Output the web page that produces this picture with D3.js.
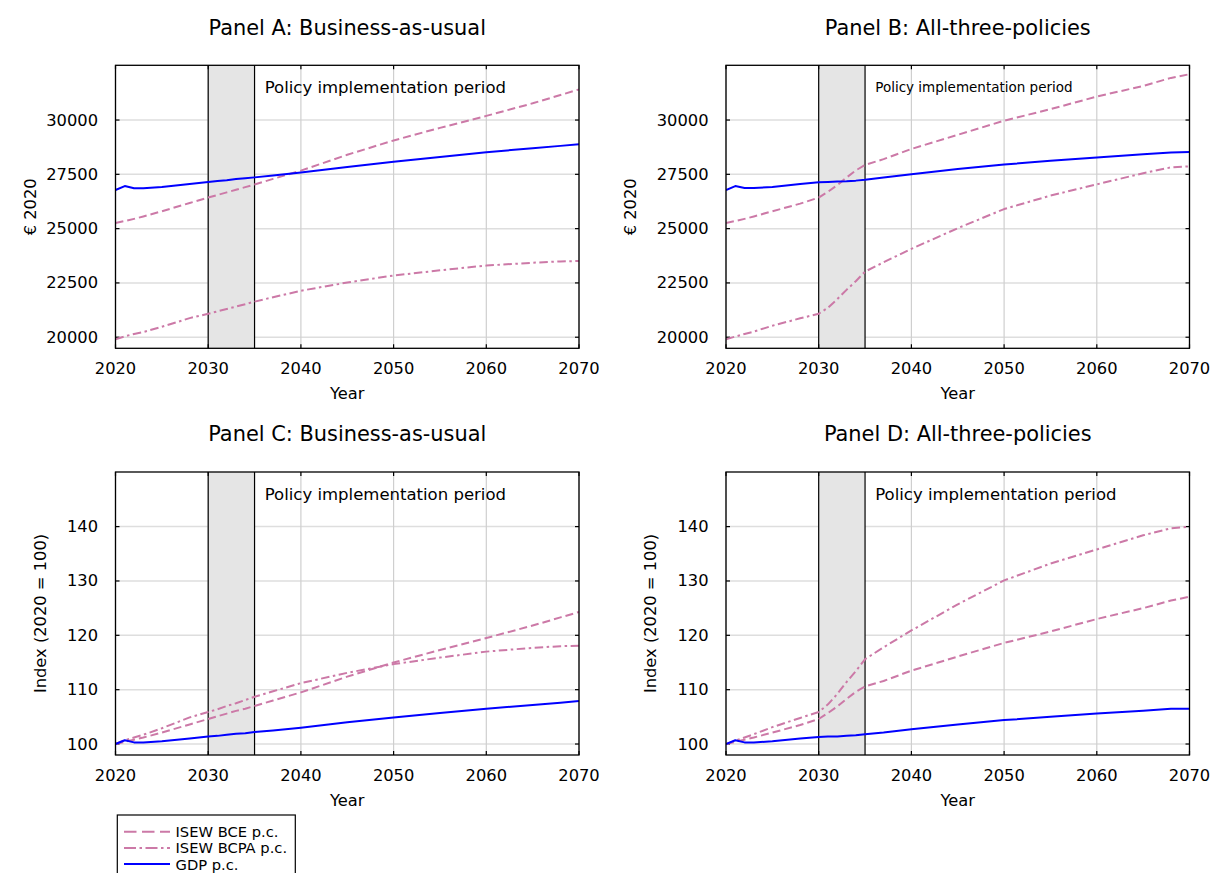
<!DOCTYPE html>
<html><head><meta charset="utf-8">
<script src="https://cdn.jsdelivr.net/npm/d3@7/dist/d3.min.js"></script>
<style>
html,body{margin:0;padding:0;background:#fff;}
svg{display:block;font-family:"DejaVu Sans",sans-serif;}
</style></head>
<body><svg id="chart" width="1213" height="873"></svg>
<script>
// ---------- data ----------
const years = [2020,2021,2022,2023,2025,2028,2030,2031,2032,2033,2034,2035,2037,2040,2045,2050,2055,2060,2065,2068,2070];

// Panel A: Business-as-usual (€ 2020)
const bauBCE  = [25260,25350,25450,25560,25800,26180,26430,26550,26670,26790,26910,27030,27290,27670,28400,29060,29640,30190,30770,31150,31410];
const bauBCPA = [19910,20040,20150,20240,20480,20880,21080,21190,21300,21410,21520,21640,21840,22140,22520,22840,23080,23300,23430,23490,23510];
const bauGDP  = [26780,26960,26860,26860,26920,27060,27150,27190,27230,27280,27320,27360,27450,27580,27840,28080,28300,28520,28700,28810,28890];

// Panel B: All-three-policies (€ 2020)
const allBCE  = [25260,25350,25450,25560,25800,26150,26430,26700,27000,27350,27680,27930,28200,28670,29320,29970,30500,31080,31570,31940,32110];
const allBCPA = [19910,20030,20150,20260,20530,20870,21080,21360,21750,22180,22580,23020,23450,24070,25020,25900,26520,27040,27550,27820,27870];
const allGDP  = [26780,26960,26870,26870,26920,27050,27140,27150,27165,27180,27210,27250,27350,27500,27740,27950,28130,28280,28420,28510,28530];

// Panel C: Business-as-usual (index 2020 = 100)
const bauBCEIdx  = [100,100.4,100.8,101.2,102.1,103.6,104.6,105.1,105.6,106.1,106.5,107.0,108.0,109.5,112.4,115.0,117.3,119.5,121.8,123.3,124.3];
const bauBCPAIdx = [100,100.7,101.2,101.7,102.9,104.9,105.9,106.4,107.0,107.5,108.1,108.7,109.7,111.2,113.1,114.7,115.9,117.0,117.7,118.0,118.1];
const bauGDPIdx  = [100,100.7,100.3,100.3,100.5,101.0,101.4,101.5,101.7,101.9,102.0,102.2,102.5,103.0,104.0,104.9,105.7,106.5,107.2,107.6,107.9];

// Panel D: All-three-policies (index 2020 = 100)
const allBCEIdx  = [100,100.4,100.8,101.2,102.1,103.5,104.6,105.7,106.9,108.3,109.6,110.6,111.6,113.5,116.1,118.6,120.7,123.0,125.0,126.4,127.1];
const allBCPAIdx = [100,100.6,101.2,101.8,103.1,104.8,105.9,107.3,109.2,111.4,113.4,115.6,117.8,120.9,125.7,130.1,133.2,135.8,138.4,139.7,140.0];
const allGDPIdx  = [100,100.7,100.3,100.3,100.5,101.0,101.3,101.4,101.4,101.5,101.6,101.8,102.1,102.7,103.6,104.4,105.0,105.6,106.1,106.5,106.5];

const xTicks = [2020,2030,2040,2050,2060,2070];
const euroTicks = [20000,22500,25000,27500,30000];
const indexTicks = [100,110,120,130,140];
const policyPeriod = [2030,2035];
const seriesNames = ["ISEW BCE p.c.","ISEW BCPA p.c.","GDP p.c."];
const panelTitles = ["Panel A: Business-as-usual","Panel B: All-three-policies","Panel C: Business-as-usual","Panel D: All-three-policies"];
const annotation = "Policy implementation period";

// ---------- styles ----------
const PINK = "#cc79a7", BLUE = "#0000ff";
const styles = [
  {color:PINK, dash:"8,4", ldash:"12.5,5.5"},
  {color:PINK, dash:"8.5,3.5,2.5,3.5", ldash:"12,3.5,2.5,3.5"},
  {color:BLUE, dash:null, ldash:null}
];

const svg = d3.select("#chart");
const W = 463.5, H = 283;

const panels = [
  {left:115.5, top:65.3, title:panelTitles[0], series:[bauBCE,bauBCPA,bauGDP], domain:[19490,32520], ticks:euroTicks, ylabel:"€ 2020", ylabelX:30, annSize:16.5},
  {left:726,   top:65.3, title:panelTitles[1], series:[allBCE,allBCPA,allGDP], domain:[19490,32520], ticks:euroTicks, ylabel:"€ 2020", ylabelX:630, annSize:13.5},
  {left:115.5, top:472,  title:panelTitles[2], series:[bauBCEIdx,bauBCPAIdx,bauGDPIdx], domain:[97.98,150.05], ticks:indexTicks, ylabel:"Index (2020 = 100)", ylabelX:40, annSize:16.5},
  {left:726,   top:472,  title:panelTitles[3], series:[allBCEIdx,allBCPAIdx,allGDPIdx], domain:[97.98,150.05], ticks:indexTicks, ylabel:"Index (2020 = 100)", ylabelX:650, annSize:16.5}
];

panels.forEach((p,i)=>{
  const x = d3.scaleLinear().domain([2020,2070]).range([p.left, p.left+W]);
  const y = d3.scaleLinear().domain(p.domain).range([p.top+H, p.top]);
  const g = svg.append("g");
  const clipId = "clip"+i;
  svg.append("clipPath").attr("id",clipId).append("rect")
    .attr("x",p.left).attr("y",p.top).attr("width",W).attr("height",H);

  // grid
  g.selectAll(".hg").data(p.ticks).join("line")
    .attr("x1",p.left).attr("x2",p.left+W)
    .attr("y1",d=>y(d)).attr("y2",d=>y(d))
    .attr("stroke","#dedede").attr("stroke-width",1.5);
  g.selectAll(".vg").data(xTicks).join("line")
    .attr("x1",d=>x(d)).attr("x2",d=>x(d))
    .attr("y1",p.top).attr("y2",p.top+H)
    .attr("stroke","#cfcfcf").attr("stroke-width",1.2);

  // policy period shading
  g.append("rect").attr("x",x(policyPeriod[0])).attr("y",p.top)
    .attr("width",x(policyPeriod[1])-x(policyPeriod[0])).attr("height",H)
    .attr("fill","#e5e5e5");
  policyPeriod.forEach(v=>{
    g.append("line").attr("x1",x(v)).attr("x2",x(v)).attr("y1",p.top).attr("y2",p.top+H)
      .attr("stroke","#000").attr("stroke-width",1.2);
  });

  // ticks (inner, on all four sides)
  const tl = 4;
  xTicks.forEach(t=>{
    g.append("line").attr("x1",x(t)).attr("x2",x(t)).attr("y1",p.top+H).attr("y2",p.top+H-tl).attr("stroke","#000").attr("stroke-width",1.2);
    g.append("line").attr("x1",x(t)).attr("x2",x(t)).attr("y1",p.top).attr("y2",p.top+tl).attr("stroke","#000").attr("stroke-width",1.2);
  });
  p.ticks.forEach(t=>{
    g.append("line").attr("x1",p.left).attr("x2",p.left+tl).attr("y1",y(t)).attr("y2",y(t)).attr("stroke","#000").attr("stroke-width",1.2);
    g.append("line").attr("x1",p.left+W).attr("x2",p.left+W-tl).attr("y1",y(t)).attr("y2",y(t)).attr("stroke","#000").attr("stroke-width",1.2);
  });

  // annotation
  g.append("text").attr("x",x(2036.1)).attr("y",p.top+22)
    .attr("dominant-baseline","central")
    .attr("font-size",p.annSize).attr("fill","#000").text(annotation);

  // series lines
  const line = d3.line().x((d,k)=>x(years[k])).y(d=>y(d));
  const lg = g.append("g").attr("clip-path",`url(#${clipId})`);
  p.series.forEach((s,k)=>{
    lg.append("path").datum(s).attr("d",line)
      .attr("fill","none").attr("stroke",styles[k].color)
      .attr("stroke-width",2).attr("stroke-dasharray",styles[k].dash)
      .attr("stroke-linejoin","round");
  });

  // frame
  g.append("rect").attr("x",p.left).attr("y",p.top).attr("width",W).attr("height",H)
    .attr("fill","none").attr("stroke","#000").attr("stroke-width",1.3);

  // tick labels
  g.selectAll(".xl").data(xTicks).join("text")
    .attr("x",d=>x(d)).attr("y",p.top+H+20).attr("text-anchor","middle")
    .attr("dominant-baseline","central").attr("font-size",16.3).text(d=>d);
  g.selectAll(".yl").data(p.ticks).join("text")
    .attr("x",p.left-17.5).attr("y",d=>y(d)).attr("text-anchor","end")
    .attr("dominant-baseline","central").attr("font-size",16.3).text(d=>d);

  // axis titles
  g.append("text").attr("x",p.left+W/2).attr("y",p.top+H+45).attr("text-anchor","middle")
    .attr("dominant-baseline","central").attr("font-size",16.3).text("Year");
  g.append("text").attr("transform",`translate(${p.ylabelX},${p.top+H/2}) rotate(-90)`)
    .attr("text-anchor","middle").attr("dominant-baseline","central")
    .attr("font-size",16.3).text(p.ylabel);

  // title
  g.append("text").attr("x",p.left+W/2).attr("y",p.top-30.8).attr("text-anchor","middle")
    .attr("font-size",20.9).text(p.title);
});

// legend
const lg = svg.append("g");
lg.append("rect").attr("x",117.3).attr("y",815).attr("width",178).attr("height",70)
  .attr("fill","#fff").attr("stroke","#000").attr("stroke-width",1.2);
seriesNames.forEach((n,k)=>{
  const yy = 831.7 + k*16.2;
  lg.append("line").attr("x1",124).attr("x2",170).attr("y1",yy).attr("y2",yy)
    .attr("stroke",styles[k].color).attr("stroke-width",2).attr("stroke-dasharray",styles[k].ldash);
  lg.append("text").attr("x",175.5).attr("y",yy).attr("dominant-baseline","central")
    .attr("font-size",14.7).text(n);
});
</script>
</body></html>
